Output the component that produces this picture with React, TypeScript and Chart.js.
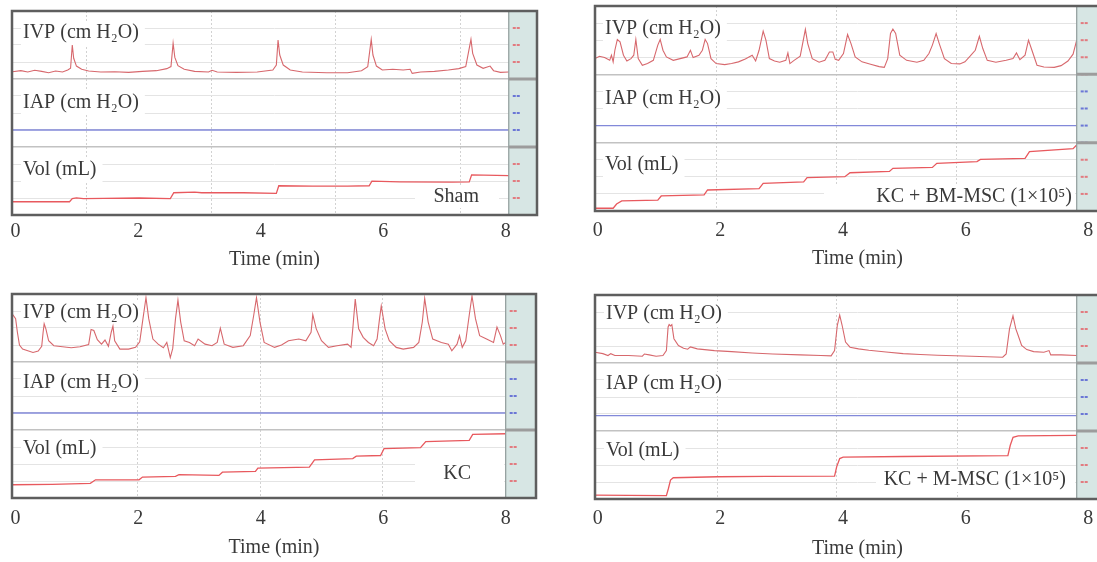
import React, { useEffect, useRef } from 'react';
import { Chart, registerables } from 'chart.js';

Chart.register(...registerables);

type Pts = [number, number][];

// ---------- shared axis text ----------
const timeTicks = [0, 2, 4, 6, 8];
const timeTickLabels = ['0', '2', '4', '6', '8'];
const timeTitle = 'Time (min)';
const traceLabels = ['IVP (cm H₂O)', 'IAP (cm H₂O)', 'Vol (mL)'];

// ---------- Sham (top left) ----------
const shamIVP: Pts = [
  [-0.05, 4.3], [0.085, 4.9], [0.199, 4.1], [0.312, 5.1], [0.426, 4.5], [0.539, 3.7], [0.653, 4.7],
  [0.766, 4.1], [0.851, 5.3], [0.897, 6.3], [0.925, 20.0], [0.948, 12.2], [0.993, 7.6], [1.078, 5.7],
  [1.192, 4.7], [1.39, 4.1], [1.617, 4.3], [1.844, 3.9], [2.071, 4.5], [2.298, 4.9], [2.468, 6.1],
  [2.536, 7.3], [2.571, 21.0], [2.599, 12.7], [2.65, 7.8], [2.752, 5.7], [2.922, 4.5], [3.149, 4.1],
  [3.206, 5.1], [3.291, 4.1], [3.603, 3.9], [3.944, 4.1], [4.199, 5.3], [4.256, 8.2], [4.284, 22.9],
  [4.312, 14.1], [4.369, 8.2], [4.483, 5.3], [4.681, 4.1], [5.078, 3.7], [5.419, 3.7], [5.646, 4.9],
  [5.748, 7.3], [5.805, 23.3], [5.833, 14.1], [5.89, 7.6], [5.986, 5.3], [6.157, 5.7], [6.327, 5.3],
  [6.44, 5.7], [6.474, 3.3], [6.611, 4.1], [6.837, 4.5], [7.064, 5.3], [7.234, 6.1], [7.348, 7.3],
  [7.433, 23.3], [7.461, 15.1], [7.53, 8.2], [7.632, 6.3], [7.745, 7.6], [7.802, 4.9], [7.915, 3.9],
  [8.05, 4.1],
];
const shamIAP: Pts = [[-0.06, 0], [8.05, 0]];
const shamVol: Pts = [
  [-0.06, 0.78], [0.88, 0.78], [0.925, 0.96], [0.993, 1.01], [1.107, 0.96], [1.447, 0.98], [2.015, 1.0],
  [2.525, 0.96], [2.582, 1.31], [2.922, 1.35], [3.036, 1.31], [3.717, 1.31], [4.256, 1.27], [4.296, 1.72],
  [4.851, 1.7], [5.419, 1.7], [5.771, 1.72], [5.816, 1.99], [6.27, 1.95], [7.121, 1.93], [7.405, 1.95],
  [7.444, 2.36], [8.05, 2.32],
];
const shamGridTimes = [1.16, 3.2, 5.22, 7.26];

// ---------- KC + BM-MSC (top right) ----------
const bmIVP: Pts = [
  [-0.045, 9.2], [0.029, 10.6], [0.112, 9.8], [0.196, 8.2], [0.224, 11.2], [0.252, 7.3], [0.28, 14.1],
  [0.32, 20.4], [0.364, 19.0], [0.42, 11.2], [0.476, 7.8], [0.543, 9.2], [0.588, 11.2], [0.622, 20.4],
  [0.661, 9.2], [0.728, 5.3], [0.812, 6.3], [0.907, 8.2], [0.98, 17.1], [1.019, 20.4], [1.064, 14.1],
  [1.12, 10.2], [1.232, 8.2], [1.344, 9.2], [1.456, 10.2], [1.512, 14.1], [1.556, 9.8], [1.651, 11.2],
  [1.707, 14.1], [1.752, 20.4], [1.791, 18.0], [1.847, 9.2], [1.931, 6.3], [2.071, 5.7], [2.183, 6.3],
  [2.295, 7.3], [2.407, 9.0], [2.519, 11.2], [2.575, 7.8], [2.631, 14.1], [2.698, 25.3], [2.743, 20.0],
  [2.799, 9.2], [2.883, 7.8], [2.967, 7.1], [3.067, 8.2], [3.101, 12.5], [3.134, 6.3], [3.202, 8.2],
  [3.302, 10.6], [3.386, 26.3], [3.425, 18.0], [3.498, 9.2], [3.61, 7.1], [3.705, 8.2], [3.778, 13.1],
  [3.834, 13.1], [3.873, 8.8], [3.929, 8.2], [4.007, 12.2], [4.074, 23.3], [4.13, 18.0], [4.198, 10.2],
  [4.309, 7.3], [4.449, 5.9], [4.589, 4.5], [4.673, 4.1], [4.729, 9.2], [4.774, 23.9], [4.813, 26.5],
  [4.858, 23.9], [4.925, 11.2], [5.037, 8.2], [5.205, 7.1], [5.317, 8.2], [5.401, 12.2], [5.457, 17.1],
  [5.518, 23.9], [5.569, 18.0], [5.653, 9.2], [5.765, 6.3], [5.904, 6.1], [5.988, 7.3], [6.072, 10.6],
  [6.156, 14.1], [6.223, 22.3], [6.279, 15.1], [6.352, 8.2], [6.492, 7.1], [6.66, 8.2], [6.772, 9.2],
  [6.828, 12.5], [6.884, 8.6], [6.968, 11.2], [7.024, 20.0], [7.08, 14.1], [7.163, 5.3], [7.275, 4.3],
  [7.443, 4.1], [7.555, 5.1], [7.667, 7.8], [7.751, 11.8], [7.81, 20.0],
];
const bmIAP: Pts = [[-0.045, 0], [7.81, 0]];
const bmVol: Pts = [
  [-0.045, 0.16], [0.252, 0.16], [0.308, 0.41], [0.392, 0.59], [0.98, 0.64], [1.036, 0.88], [1.735, 0.94],
  [1.791, 1.23], [2.631, 1.31], [2.698, 1.62], [3.358, 1.7], [3.414, 1.95], [4.03, 2.01], [4.114, 2.24],
  [4.757, 2.32], [4.813, 2.5], [5.457, 2.55], [5.529, 2.79], [6.184, 2.89], [6.24, 3.02], [6.968, 3.08],
  [7.04, 3.47], [7.751, 3.65], [7.81, 3.86],
];
const bmGridTimes = [1.93, 3.89, 5.85];

// ---------- KC (bottom left) ----------
const kcIVP: Pts = [
  [-0.06, 28.5], [0.0, 25.5], [0.029, 17.5], [0.063, 10.0], [0.114, 7.6], [0.199, 6.6], [0.284, 5.6],
  [0.369, 6.4], [0.426, 9.2], [0.449, 17.5], [0.466, 22.5], [0.494, 19.5], [0.539, 12.5], [0.624, 9.6],
  [0.766, 9.0], [0.908, 8.4], [1.05, 9.0], [1.192, 10.3], [1.232, 19.1], [1.277, 18.5], [1.334, 13.1],
  [1.402, 10.5], [1.459, 12.9], [1.515, 9.2], [1.561, 17.5], [1.589, 21.1], [1.617, 12.5], [1.702, 7.6],
  [1.844, 7.6], [1.958, 8.6], [2.026, 11.9], [2.071, 23.5], [2.128, 37.8], [2.173, 25.5], [2.241, 13.5],
  [2.327, 10.5], [2.412, 8.4], [2.468, 11.5], [2.525, 2.6], [2.565, 8.0], [2.61, 25.5], [2.65, 36.4],
  [2.695, 23.5], [2.752, 12.5], [2.837, 11.5], [2.922, 9.6], [2.979, 13.5], [3.092, 10.5], [3.206, 9.6],
  [3.291, 11.5], [3.342, 19.9], [3.405, 10.5], [3.546, 8.6], [3.717, 9.6], [3.83, 15.5], [3.887, 27.5],
  [3.932, 37.8], [3.989, 23.5], [4.057, 11.5], [4.227, 8.6], [4.341, 10.0], [4.454, 12.5], [4.624, 13.5],
  [4.738, 12.5], [4.823, 17.5], [4.851, 27.9], [4.908, 19.5], [4.993, 12.5], [5.107, 8.6], [5.248, 9.6],
  [5.419, 10.5], [5.476, 8.6], [5.504, 19.5], [5.544, 37.0], [5.6, 19.5], [5.674, 14.5], [5.759, 11.5],
  [5.844, 9.6], [5.901, 13.5], [5.941, 25.5], [5.969, 33.0], [6.032, 19.5], [6.1, 12.5], [6.213, 8.6],
  [6.327, 7.6], [6.497, 8.6], [6.582, 11.5], [6.639, 23.5], [6.678, 37.4], [6.735, 23.5], [6.809, 13.5],
  [6.951, 11.5], [7.064, 10.5], [7.121, 6.6], [7.206, 10.5], [7.246, 15.5], [7.291, 8.6], [7.348, 12.5],
  [7.405, 27.5], [7.45, 38.8], [7.507, 25.5], [7.575, 15.5], [7.688, 13.5], [7.802, 11.5], [7.858, 20.5],
  [7.915, 15.5], [7.96, 10.5], [8.0, 11.5],
];
const kcIAP: Pts = [[-0.06, 0], [8.0, 0]];
const kcVol: Pts = [
  [-0.06, 0.78], [0.596, 0.8], [1.22, 0.86], [1.305, 1.07], [2.015, 1.07], [2.071, 1.23], [2.61, 1.27],
  [2.667, 1.37], [3.319, 1.33], [3.376, 1.52], [3.915, 1.56], [3.955, 1.76], [4.795, 1.81], [4.88, 2.24],
  [5.504, 2.32], [5.561, 2.46], [5.958, 2.5], [6.015, 2.91], [6.61, 2.96], [6.695, 3.32], [7.405, 3.39],
  [7.462, 3.74], [8.0, 3.78],
];
const kcGridTimes = [1.99, 4.0, 5.99];

// ---------- KC + M-MSC (bottom right) ----------
const mIVP: Pts = [
  [-0.045, 6.3], [0.084, 5.5], [0.168, 4.4], [0.213, 5.5], [0.28, 4.4], [0.504, 4.4], [0.728, 4.0],
  [0.762, 5.3], [0.84, 4.8], [0.952, 4.0], [1.064, 4.4], [1.12, 7.3], [1.148, 21.2], [1.165, 22.6],
  [1.187, 21.8], [1.209, 22.6], [1.243, 14.3], [1.316, 10.3], [1.4, 8.7], [1.467, 8.1], [1.512, 9.5],
  [1.624, 8.3], [1.903, 7.3], [2.183, 6.7], [2.519, 5.9], [2.855, 5.3], [3.302, 4.8], [3.638, 4.4],
  [3.806, 4.2], [3.862, 7.3], [3.907, 22.2], [3.946, 28.1], [3.985, 22.2], [4.041, 12.3], [4.114, 9.3],
  [4.253, 8.3], [4.421, 7.5], [4.701, 6.5], [4.981, 5.5], [5.261, 5.0], [5.541, 4.6], [6.1, 4.0],
  [6.604, 3.4], [6.66, 5.3], [6.715, 20.2], [6.771, 27.7], [6.816, 20.2], [6.856, 16.2], [6.912, 10.3],
  [6.996, 7.9], [7.108, 6.7], [7.275, 6.3], [7.359, 7.3], [7.387, 4.8], [7.555, 4.8], [7.81, 4.4],
];
const mIAP: Pts = [[-0.045, -1], [7.81, -1]];
const mVol: Pts = [
  [-0.045, 0.23], [0.504, 0.21], [1.12, 0.2], [1.153, 0.62], [1.187, 1.11], [1.232, 1.25], [1.959, 1.31],
  [2.743, 1.33], [3.862, 1.35], [3.896, 1.89], [3.946, 2.38], [4.002, 2.46], [4.981, 2.5], [6.688, 2.55],
  [6.727, 3.16], [6.772, 3.63], [6.856, 3.71], [7.81, 3.74],
];
const mGridTimes = [1.95, 3.9, 5.87];

// ---------- styling ----------
const FONT = '"Liberation Serif", "Times New Roman", serif';
const TEXT = '#3a3a3a';
const PAD = 2;

interface PanelSpec {
  left: number; top: number; width: number; height: number; axisH: number; tickPad: number;
  xMin: number; xMax: number; stripStart: number;
  ivp: Pts; iap: Pts; vol: Pts; gridTimes: number[];
  group: string; groupRight: number; groupY: number; groupBox: [number, number, number, number];
  labelX: number; labelY: number[];
}

const panels: PanelSpec[] = [
  {
    left: 12, top: 11, width: 525, height: 204, axisH: 57, tickPad: 5,
    xMin: -0.059, xMax: 8.511, stripStart: 8.05,
    ivp: shamIVP, iap: shamIAP, vol: shamVol, gridTimes: shamGridTimes,
    group: 'Sham', groupRight: 467, groupY: 186, groupBox: [403, 487, 175, 197],
    labelX: 11, labelY: [22, 92, 159],
  },
  {
    left: 595, top: 6, width: 525, height: 205, axisH: 60, tickPad: 8,
    xMin: -0.044, xMax: 8.516, stripStart: 7.81,
    ivp: bmIVP, iap: bmIAP, vol: bmVol, gridTimes: bmGridTimes,
    group: 'KC + BM-MSC (1×10⁵)', groupRight: 477, groupY: 191, groupBox: [229, 480, 180, 202],
    labelX: 10, labelY: [23, 93, 159],
  },
  {
    left: 12, top: 294, width: 524, height: 204, axisH: 62, tickPad: 9,
    xMin: -0.059, xMax: 8.495, stripStart: 8.0,
    ivp: kcIVP, iap: kcIAP, vol: kcVol, gridTimes: kcGridTimes,
    group: 'KC', groupRight: 459, groupY: 180, groupBox: [403, 492, 161, 196],
    labelX: 11, labelY: [19, 89, 155],
  },
  {
    left: 595, top: 295, width: 525, height: 204, axisH: 62, tickPad: 8,
    xMin: -0.044, xMax: 8.516, stripStart: 7.81,
    ivp: mIVP, iap: mIAP, vol: mVol, gridTimes: mGridTimes,
    group: 'KC + M-MSC (1×10⁵)', groupRight: 471, groupY: 185, groupBox: [281, 480, 175, 197],
    labelX: 11, labelY: [19, 89, 156],
  },
];

const toXY = (p: Pts) => p.map(([x, y]) => ({ x, y }));

const bandTicks: Record<string, number[]> = {
  yIVP: [0, 10, 20, 30],
  yIAP: [-10, 0, 10, 20],
  yVol: [1, 2, 3],
};
const separators: Record<string, number> = { yIVP: 0, yIAP: -10 };

function yScale(id: string, min: number, max: number) {
  return {
    type: 'linear', min, max, position: 'left', display: true,
    ticks: { display: false },
    border: { display: false },
    grid: {
      drawTicks: false,
      color: (c: any) => (c.tick && c.tick.value === separators[id] ? '#c2c2c2' : '#e4e4e4'),
      lineWidth: (c: any) => (c.tick && c.tick.value === separators[id] ? 1.5 : 1),
    },
    afterBuildTicks: (s: any) => { s.ticks = bandTicks[id].map((v) => ({ value: v })); },
    afterFit: (s: any) => { s.width = 0; s.paddingTop = 0; s.paddingBottom = 0; },
  };
}

function Panel({ spec }: { spec: PanelSpec }) {
  const ref = useRef<HTMLCanvasElement | null>(null);
  const cw = spec.width + PAD * 2;
  const ch = spec.height + PAD + spec.axisH;

  useEffect(() => {
    const labelFont = `20px ${FONT}`;
    const decor = {
      id: 'decor',
      beforeDatasetsDraw(chart: any) {
        const { ctx, chartArea: a } = chart;
        ctx.save();
        ctx.fillStyle = '#ffffff';
        ctx.font = labelFont;
        traceLabels.forEach((t, i) => {
          const w = ctx.measureText(t).width;
          ctx.fillRect(a.left + spec.labelX - 2, a.top + spec.labelY[i] - 12, w + 8, 24);
        });
        const [x0, x1, y0, y1] = spec.groupBox;
        ctx.fillRect(a.left + x0, a.top + y0, x1 - x0, y1 - y0);
        ctx.restore();
      },
      afterDatasetsDraw(chart: any) {
        const { ctx, chartArea: a, scales } = chart;
        ctx.save();
        // recorder scale strip
        const sx = scales.x.getPixelForValue(spec.stripStart);
        ctx.fillStyle = '#d7e6e4';
        ctx.fillRect(sx, a.top, a.right - sx, a.bottom - a.top);
        ctx.strokeStyle = '#8f9c9b';
        ctx.lineWidth = 1.2;
        ctx.beginPath(); ctx.moveTo(sx, a.top); ctx.lineTo(sx, a.bottom); ctx.stroke();
        // strip marks
        const markColor: Record<string, string> = { yIVP: '#e27b80', yIAP: '#6b77d6', yVol: '#e27b80' };
        ['yIVP', 'yIAP', 'yVol'].forEach((id) => {
          ctx.fillStyle = markColor[id];
          bandTicks[id].forEach((v) => {
            const y = scales[id].getPixelForValue(v);
            ctx.fillRect(sx + 4, y - 1, 3, 2);
            ctx.fillRect(sx + 8, y - 1, 3, 2);
          });
        });
        // strip separators
        ctx.strokeStyle = '#9c9c9c';
        ctx.lineWidth = 3;
        ['yIVP', 'yIAP'].forEach((id) => {
          const y = scales[id].getPixelForValue(separators[id]);
          ctx.beginPath(); ctx.moveTo(sx, y); ctx.lineTo(a.right, y); ctx.stroke();
        });
        // panel frame
        ctx.strokeStyle = '#5e5e5e';
        ctx.lineWidth = 2.5;
        ctx.strokeRect(a.left, a.top, a.right - a.left, a.bottom - a.top);
        // texts
        ctx.fillStyle = TEXT;
        ctx.font = labelFont;
        ctx.textBaseline = 'middle';
        ctx.textAlign = 'left';
        traceLabels.forEach((t, i) => ctx.fillText(t, a.left + spec.labelX, a.top + spec.labelY[i]));
        ctx.textAlign = 'right';
        ctx.fillText(spec.group, a.left + spec.groupRight, a.top + spec.groupY);
        ctx.restore();
      },
    };

    const line = (data: Pts, axis: string, color: string, w: number) => ({
      data: toXY(data), yAxisID: axis, borderColor: color, borderWidth: w,
      pointRadius: 0, tension: 0, fill: false,
    });

    const chart = new Chart(ref.current as HTMLCanvasElement, {
      type: 'line',
      data: {
        datasets: [
          line(spec.ivp, 'yIVP', '#d7686d', 1.1),
          line(spec.iap, 'yIAP', '#8289d9', 1.3),
          line(spec.vol, 'yVol', '#e8595e', 1.3),
        ],
      },
      options: {
        animation: false,
        responsive: false,
        events: [],
        layout: { padding: { left: PAD, right: PAD, top: PAD, bottom: 0 } },
        plugins: { legend: { display: false }, tooltip: { enabled: false } },
        scales: {
          x: {
            type: 'linear', min: spec.xMin, max: spec.xMax, position: 'bottom',
            grid: { display: false, drawTicks: false },
            border: { display: false },
            afterBuildTicks: (s: any) => { s.ticks = timeTicks.map((v) => ({ value: v })); },
            afterFit: (s: any) => { s.height = spec.axisH; s.paddingLeft = 0; s.paddingRight = 0; },
            ticks: {
              padding: spec.tickPad, maxRotation: 0, autoSkip: false, color: TEXT,
              font: { family: FONT, size: 20 },
              callback: (_v: any, i: number) => timeTickLabels[i],
            },
            title: {
              display: true, text: timeTitle, color: TEXT,
              font: { family: FONT, size: 20 }, padding: { top: 0, bottom: 0 },
            },
          },
          xg: {
            type: 'linear', min: spec.xMin, max: spec.xMax, position: 'bottom',
            ticks: { display: false },
            border: { display: false, dash: [2, 2] },
            grid: { drawTicks: false, color: '#d2d2d2', lineWidth: 1 },
            afterBuildTicks: (s: any) => { s.ticks = spec.gridTimes.map((v) => ({ value: v })); },
            afterFit: (s: any) => { s.height = 0; s.paddingLeft = 0; s.paddingRight = 0; },
          },
          yVol: yScale('yVol', 0, 12),
          yIAP: yScale('yIAP', -50, 70),
          yIVP: yScale('yIVP', -80, 40),
        },
      } as any,
      plugins: [decor],
    } as any);
    return () => chart.destroy();
  }, []);

  return (
    <canvas
      ref={ref}
      width={cw}
      height={ch}
      style={{ position: 'absolute', left: spec.left - PAD, top: spec.top - PAD, width: cw, height: ch }}
    />
  );
}

export default function App() {
  return (
    <div style={{ position: 'fixed', left: 0, top: 0, width: 1097, height: 562, overflow: 'hidden', background: '#fff' }}>
      {panels.map((p, i) => (
        <Panel key={i} spec={p} />
      ))}
    </div>
  );
}
